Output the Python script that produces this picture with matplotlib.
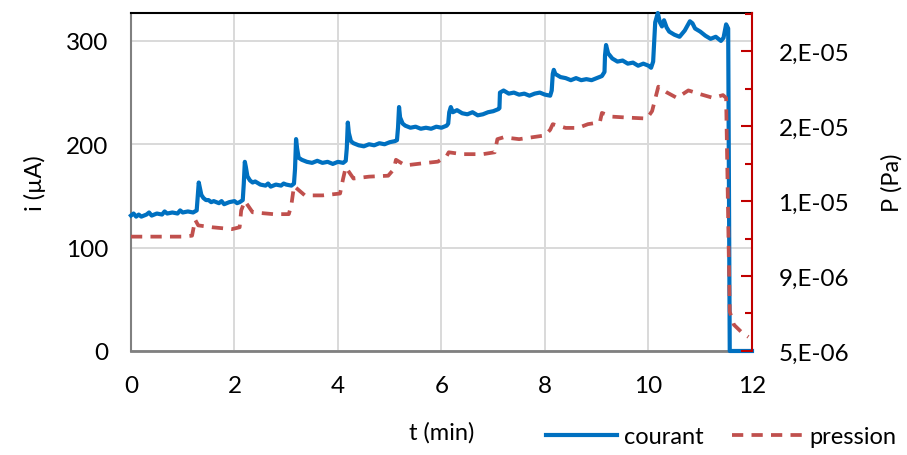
import numpy as np
import matplotlib.pyplot as plt
from matplotlib.ticker import FuncFormatter

plt.rcParams['font.family'] = ['Lato', 'DejaVu Sans']

# courant (uA) vs time (min)
t_i = [0, 0.05, 0.1, 0.15, 0.2, 0.3, 0.35, 0.4, 0.5, 0.6, 0.65, 0.7, 0.8, 0.9, 0.95, 1.0, 1.1, 1.2, 1.27,
       1.29, 1.31, 1.33, 1.36, 1.4, 1.45, 1.5, 1.55, 1.6, 1.7, 1.75, 1.8, 1.9, 2.0, 2.05, 2.1, 2.16,
       2.18, 2.2, 2.22, 2.25, 2.3, 2.35, 2.4, 2.5, 2.6, 2.65, 2.7, 2.8, 2.9, 2.95, 3.0, 3.1, 3.15,
       3.17, 3.19, 3.21, 3.24, 3.3, 3.4, 3.5, 3.6, 3.7, 3.8, 3.9, 4.0, 4.1, 4.15,
       4.17, 4.19, 4.21, 4.25, 4.3, 4.4, 4.5, 4.6, 4.7, 4.8, 4.9, 5.0, 5.1, 5.14,
       5.16, 5.18, 5.2, 5.25, 5.3, 5.4, 5.5, 5.6, 5.7, 5.8, 5.9, 6.0, 6.1, 6.13,
       6.15, 6.18, 6.22, 6.3, 6.4, 6.5, 6.6, 6.7, 6.8, 6.9, 7.0, 7.1, 7.12,
       7.13, 7.2, 7.3, 7.4, 7.5, 7.6, 7.7, 7.8, 7.9, 8.0, 8.1, 8.13,
       8.15, 8.17, 8.2, 8.3, 8.4, 8.5, 8.6, 8.7, 8.8, 8.9, 9.0, 9.1, 9.15,
       9.16, 9.18, 9.22, 9.3, 9.4, 9.5, 9.6, 9.7, 9.8, 9.9, 10.0, 10.05, 10.09,
       10.13, 10.18, 10.22, 10.26, 10.3, 10.35, 10.4, 10.5, 10.6, 10.7, 10.8, 10.85, 10.9,
       11.0, 11.1, 11.2, 11.3, 11.4, 11.45, 11.5, 11.54, 11.57, 11.6, 12.0]
i_val = [131, 133, 130, 132, 130, 132, 134, 131, 133, 132, 135, 133, 134, 133, 136, 134, 135, 134, 136,
         150, 163, 158, 151, 148, 146, 146, 144, 145, 143, 145, 142, 144, 145, 143, 144, 146,
         162, 183, 178, 169, 165, 163, 164, 161, 160, 162, 159, 161, 160, 162, 161, 160, 162,
         176, 205, 196, 187, 185, 183, 182, 184, 182, 183, 181, 183, 182, 184,
         196, 221, 211, 203, 201, 199, 198, 200, 199, 201, 200, 202, 203, 204,
         216, 236, 226, 220, 218, 216, 217, 215, 216, 215, 217, 216, 218, 220,
         231, 236, 231, 233, 230, 229, 231, 228, 229, 231, 232, 234, 235,
         250, 252, 249, 250, 248, 249, 247, 249, 250, 248, 247, 252,
         268, 272, 268, 265, 264, 262, 264, 262, 263, 262, 264, 266, 270,
         286, 296, 288, 283, 280, 281, 278, 279, 276, 278, 276, 274, 280,
         318, 327, 318, 314, 320, 313, 309, 306, 304, 310, 319, 317, 312,
         309, 305, 302, 304, 300, 303, 316, 312, 0, 0, 0]

# pression (Pa) vs time (min)
t_p = [0, 0.5, 1.0, 1.18, 1.24, 1.3, 1.57, 1.95, 2.1, 2.13, 2.2, 2.35, 2.75, 3.05, 3.1, 3.15, 3.36, 3.7, 4.04,
       4.1, 4.15, 4.3, 4.6, 4.97, 5.08, 5.12, 5.3, 5.6, 5.93, 6.1, 6.14, 6.4, 6.8, 7.03, 7.08, 7.2, 7.5, 8.0,
       8.1, 8.15, 8.4, 8.64, 8.83, 9.06, 9.1, 9.3, 9.6, 9.97, 10.07, 10.19, 10.35, 10.55, 10.77, 11.0, 11.25,
       11.44, 11.5, 11.57, 11.65, 11.8, 11.93]
p_val = [1.11e-5, 1.11e-5, 1.11e-5, 1.115e-5, 1.2e-5, 1.17e-5, 1.16e-5, 1.15e-5, 1.16e-5, 1.25e-5, 1.3e-5,
         1.24e-5, 1.23e-5, 1.23e-5, 1.28e-5, 1.38e-5, 1.33e-5, 1.33e-5, 1.34e-5,
         1.42e-5, 1.48e-5, 1.42e-5, 1.43e-5, 1.435e-5, 1.47e-5, 1.52e-5, 1.49e-5, 1.5e-5, 1.51e-5,
         1.54e-5, 1.56e-5, 1.55e-5, 1.55e-5, 1.56e-5, 1.63e-5, 1.64e-5, 1.63e-5, 1.65e-5,
         1.68e-5, 1.71e-5, 1.69e-5, 1.69e-5, 1.71e-5, 1.72e-5, 1.77e-5, 1.75e-5, 1.745e-5, 1.74e-5,
         1.78e-5, 1.91e-5, 1.88e-5, 1.85e-5, 1.89e-5, 1.87e-5, 1.85e-5,
         1.865e-5, 1.85e-5, 7.1e-6, 6.4e-6, 6.0e-6, 5.75e-6]

fig = plt.figure(figsize=(9.07, 4.56), dpi=100)
ax = fig.add_axes([0.1444, 0.2281, 0.6847, 0.7412])
ax2 = ax.twinx()

ax.plot(t_i, i_val, color='#0070C0', lw=3, label='courant', zorder=3, clip_on=False)
ax2.plot(t_p, p_val, color='#C0504D', lw=2.7, linestyle=(0, (3.0, 2.2)), label='pression')

ax.set_xlim(0, 12)
ax.set_ylim(0, 327)
ax.set_xticks(range(0, 13, 2))
ax.set_yticks([0, 100, 200, 300])
ax.grid(True, color='#d9d9d9', lw=1.4)
ax.set_axisbelow(True)
ax.tick_params(axis='both', length=0, labelsize=17.5)
ax.tick_params(axis='x', pad=17)
ax.tick_params(axis='y', pad=16)

ax2.set_ylim(5e-6, 2.303e-5)
ax2.set_yticks([5e-6, 9e-6, 1.3e-5, 1.7e-5, 2.1e-5])
ax2.set_yticks([7e-6, 1.1e-5, 1.5e-5, 1.9e-5, 2.3e-5], minor=True)
ax2.yaxis.set_major_formatter(FuncFormatter(lambda v, pos: f"{v:.0E}".replace('E', ',E')))
ax2.tick_params(axis='y', which='major', direction='in', length=8, width=1.5, color='#C00000',
                labelsize=17.5, pad=19)
ax2.tick_params(axis='y', which='minor', direction='in', length=5, width=1.5, color='#C00000')

for s in ['left', 'top', 'bottom']:
    ax2.spines[s].set_visible(False)
ax2.spines['right'].set_color('#C00000')
ax2.spines['right'].set_linewidth(1.5)
ax.spines['right'].set_visible(False)
ax.spines['top'].set_color('black')
ax.spines['top'].set_linewidth(1.5)
ax.spines['left'].set_color('#808080')
ax.spines['left'].set_linewidth(1.5)
ax.spines['bottom'].set_color('#808080')
ax.spines['bottom'].set_linewidth(2)

ax.set_xlabel('t (min)', fontsize=17, labelpad=18)
ax.set_ylabel('i (µA)', fontsize=17, labelpad=15)
ax2.set_ylabel('P (Pa)', fontsize=17, labelpad=23)

h1, l1 = ax.get_legend_handles_labels()
h2, l2 = ax2.get_legend_handles_labels()
fig.legend(h1 + h2, l1 + l2, loc='lower right', bbox_to_anchor=(1.012, -0.03), ncol=2, frameon=False,
           fontsize=17, handlelength=3.0, columnspacing=1.2, handletextpad=0.3)

fig.savefig('out.png', dpi=100)
